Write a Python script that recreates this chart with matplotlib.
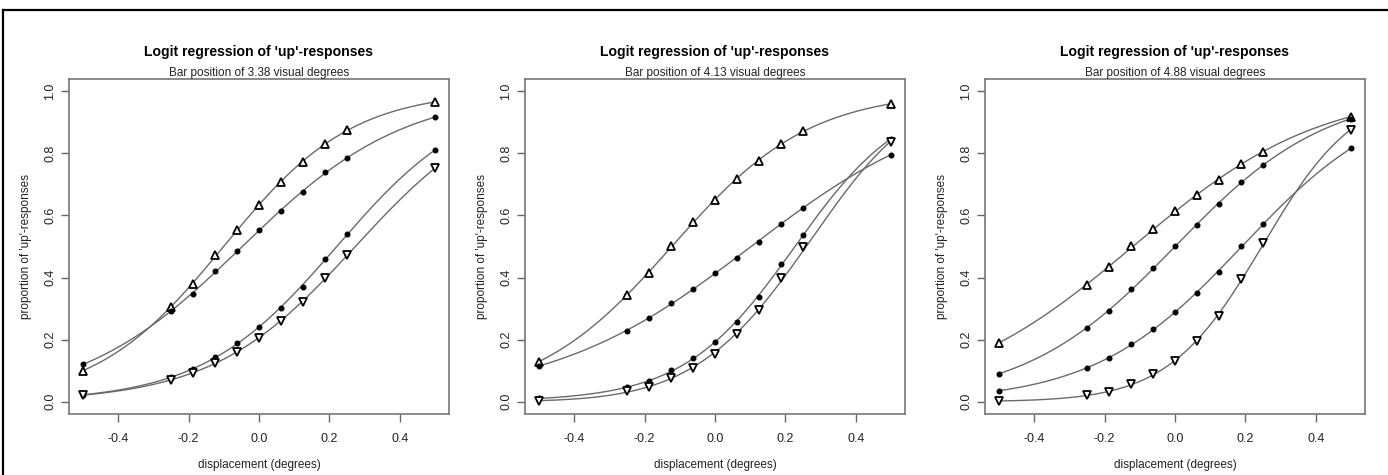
import numpy as np
import matplotlib
matplotlib.use("Agg")
import matplotlib.pyplot as plt
from matplotlib.lines import Line2D

plt.rcParams["font.family"] = ["Liberation Sans", "DejaVu Sans"]

# displacement levels (degrees)
x = [-0.5, -0.25, -0.1875, -0.125, -0.0625, 0.0, 0.0625, 0.125, 0.1875, 0.25, 0.5]

bar_pos = ["3.38", "4.13", "4.88"]

# proportion of 'up'-responses, per panel: up-triangle, dot (upper), dot (lower), down-triangle
p1_up = [0.100, 0.305, 0.380, 0.473, 0.554, 0.635, 0.707, 0.771, 0.832, 0.875, 0.966]
p1_dot_a = [0.120, 0.293, 0.348, 0.420, 0.485, 0.553, 0.616, 0.675, 0.739, 0.786, 0.917]
p1_dot_b = [0.022, 0.078, 0.104, 0.145, 0.188, 0.242, 0.303, 0.371, 0.460, 0.539, 0.811]
p1_down = [0.021, 0.070, 0.092, 0.126, 0.161, 0.205, 0.259, 0.320, 0.400, 0.473, 0.752]

p2_up = [0.129, 0.343, 0.416, 0.502, 0.579, 0.651, 0.717, 0.776, 0.832, 0.871, 0.960]
p2_dot_a = [0.115, 0.229, 0.269, 0.317, 0.363, 0.414, 0.464, 0.516, 0.574, 0.625, 0.796]
p2_dot_b = [0.010, 0.047, 0.065, 0.101, 0.140, 0.192, 0.258, 0.337, 0.443, 0.538, 0.847]
p2_down = [0.003, 0.033, 0.047, 0.075, 0.109, 0.154, 0.217, 0.294, 0.397, 0.497, 0.838]

p3_up = [0.190, 0.376, 0.433, 0.501, 0.556, 0.613, 0.666, 0.716, 0.767, 0.805, 0.919]
p3_dot_a = [0.090, 0.238, 0.292, 0.363, 0.430, 0.501, 0.570, 0.637, 0.708, 0.762, 0.912]
p3_dot_b = [0.035, 0.109, 0.140, 0.185, 0.234, 0.288, 0.350, 0.419, 0.501, 0.572, 0.816]
p3_down = [0.002, 0.020, 0.032, 0.056, 0.088, 0.131, 0.195, 0.277, 0.395, 0.510, 0.877]

panels = [
    (p1_up, p1_dot_a, p1_dot_b, p1_down),
    (p2_up, p2_dot_a, p2_dot_b, p2_down),
    (p3_up, p3_dot_a, p3_dot_b, p3_down),
]
markers = ["up", "dot", "dot", "down"]

W, H = 1388, 475
fig = plt.figure(figsize=(W / 100, H / 100), dpi=100)

# frame lines (top and left edge)
fig.add_artist(Line2D([3 / W, 1.0], [1 - 10 / H] * 2, color="black", lw=1.6))
fig.add_artist(Line2D([3 / W] * 2, [0.0, 1 - 10 / H], color="black", lw=1.6))

lefts = [69, 525, 985]
ax_w, ax_top, ax_bot = 380, 79, 414
xs = np.array(x)
xf = np.linspace(-0.5, 0.5, 300)
txt = "#222222"

for left, series, bp in zip(lefts, panels, bar_pos):
    ax = fig.add_axes([left / W, 1 - ax_bot / H, ax_w / W, (ax_bot - ax_top) / H])
    for ys, mk in zip(series, markers):
        ys = np.clip(np.array(ys), 1e-3, 1 - 1e-3)
        # smooth fit through the points in logit space
        coef = np.polyfit(xs, np.log(ys / (1 - ys)), 3)
        yf = 1 / (1 + np.exp(-np.polyval(coef, xf)))
        ax.plot(xf, yf, color="#6a6a6a", lw=1.0, zorder=2)
        if mk == "dot":
            ax.plot(xs, ys, "o", ms=3.3, color="black", zorder=3)
        elif mk == "up":
            ax.plot(xs, ys, "^", ms=6.2, mfc="white", mec="black", mew=1.3, zorder=3)
        else:
            ax.plot(xs, ys, "v", ms=6.2, mfc="white", mec="black", mew=1.3, zorder=3)

    ax.set_xlim(-0.54, 0.54)
    ax.set_ylim(-0.04, 1.04)
    ax.set_xticks([-0.4, -0.2, 0.0, 0.2, 0.4])
    ax.set_yticks([0.0, 0.2, 0.4, 0.6, 0.8, 1.0])
    ax.set_xticklabels(["-0.4", "-0.2", "0.0", "0.2", "0.4"])
    ax.set_yticklabels(["0.0", "0.2", "0.4", "0.6", "0.8", "1.0"], rotation=90, va="center")
    ax.tick_params(direction="out", length=6, width=1, color="#666666",
                   labelsize=9, labelcolor=txt)
    ax.tick_params(axis="x", pad=8)
    ax.tick_params(axis="y", pad=3)
    for s in ax.spines.values():
        s.set_color("#777777")
        s.set_linewidth(1.2)
    ax.set_xlabel("displacement (degrees)", fontsize=8.5, color=txt, labelpad=10)
    ax.set_ylabel("proportion of 'up'-responses", fontsize=8.5, color=txt, labelpad=9)
    ax.text(0.5, 1.0, f"Bar position of {bp} visual degrees", transform=ax.transAxes,
            ha="center", va="bottom", fontsize=8.5, color=txt)
    ax.text(0.5, 1 + 27 / (ax_bot - ax_top), "Logit regression of 'up'-responses",
            transform=ax.transAxes, ha="center", va="center", fontsize=10.1,
            fontweight="bold", color="black")

fig.savefig("out.png", dpi=100)
